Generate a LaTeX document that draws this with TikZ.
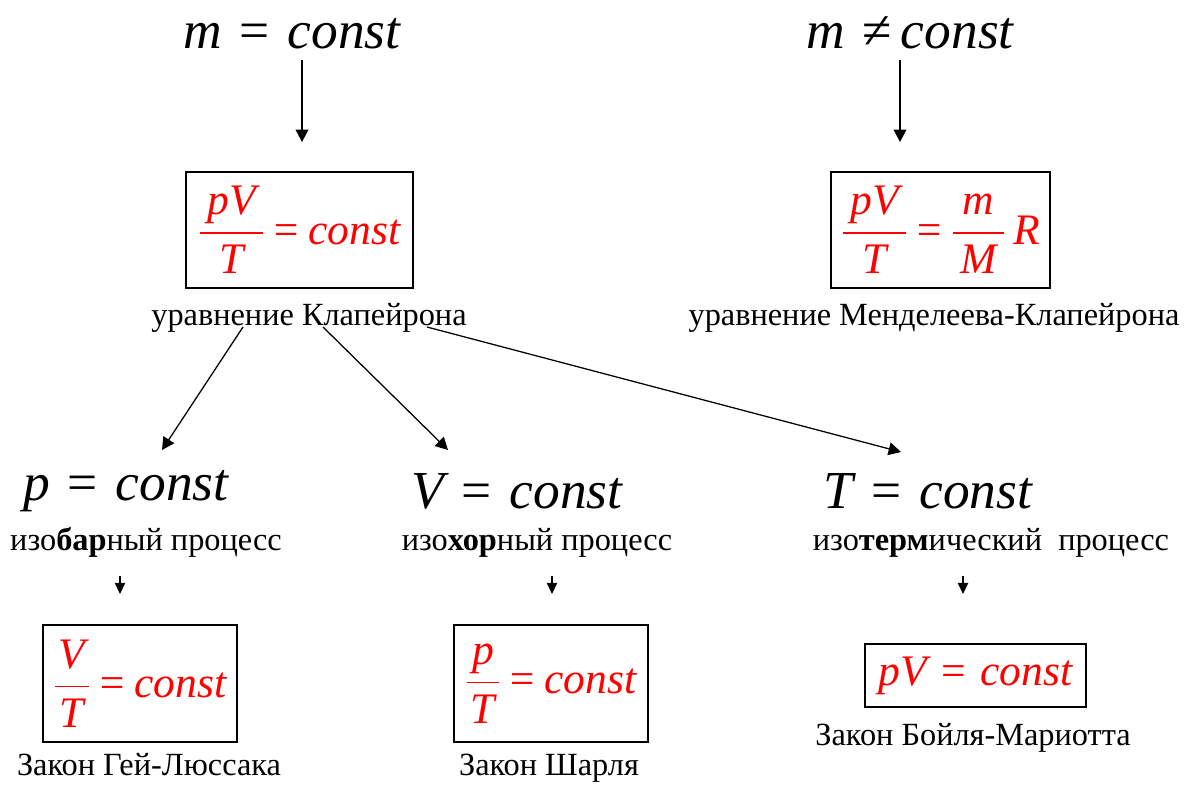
\RequirePackage{fix-cm}
\documentclass[tikz,border=0pt]{standalone}
\usepackage{amsmath}
\usepackage{fontspec}
\setmainfont{Liberation Serif}
\usepackage{tikz}
\usetikzlibrary{arrows.meta,positioning}
\newcommand\bigmath{\fontsize{38}{44}\selectfont\itshape}
\newcommand\redmath{\fontsize{31}{36}\selectfont\color{red}\itshape}
\newcommand\frc[3][\,]{\ensuremath{\dfrac{#1\textit{#2}#1}{#1\textit{#3}#1}}}
\tikzset{
  lawbox/.style = {draw, line width=1.1pt, inner sep=0pt, text=red},
  lbl/.style    = {font=\fontsize{23}{27}\selectfont, anchor=base, inner sep=0pt},
  cond/.style   = {font=\bigmath, anchor=base, inner sep=0pt},
  vec/.style    = {-{Triangle[length=3.1mm,width=3.2mm]}, line width=0.9pt},
  svec/.style   = {-{Triangle[length=2.8mm,width=2.6mm]}, line width=0.9pt},
}
\begin{document}
\begin{tikzpicture}[x=0.25mm,y=-0.25mm]
  \useasboundingbox (0,0) rectangle (1184,785);
  % top conditions
  \node[cond] (mconst) at (292,48) {m\,\,\upshape=\,\,\itshape const};
  \node[cond] (mneq)   at (910,48) {m\,\,\upshape≠\,\itshape const};
  % gas equations
  \node[lawbox, minimum width=227*0.25mm, minimum height=116*0.25mm]
      (clap) at (299.5,230) {\redmath\frc{pV}{T}\,=\,const};
  \node[lbl] (clapLbl) at (309,325) {уравнение Клапейрона};
  \node[lawbox, minimum width=219*0.25mm, minimum height=116*0.25mm]
      (mend) at (940.5,230) {\redmath\frc{pV}{T}\,=\,\frc{m}{M}\,R};
  \node[lbl] (mendLbl) at (934,325) {уравнение Менделеева-Клапейрона};
  % processes
  \node[cond] (pconst) at (126,500) {p\,\,\upshape=\,\,\itshape const};
  \node[cond] (vconst) at (517,508) {V\,\,\upshape=\,\,\itshape const};
  \node[cond] (tconst) at (928,508) {T\,\,\upshape=\,\,\itshape const};
  \node[lbl] (pLbl) at (146,550) {изо\textbf{бар}ный процесс};
  \node[lbl] (vLbl) at (537,550) {изо\textbf{хор}ный процесс};
  \node[lbl] (tLbl) at (991,550) {изо\textbf{терм}ический\ \ процесс};
  % laws
  \node[lawbox, minimum width=194*0.25mm, minimum height=117*0.25mm]
      (gay) at (140,683.5) {\redmath\frc[\mkern1.5mu]{V}{T}\,=\,const};
  \node[lawbox, minimum width=194*0.25mm, minimum height=117*0.25mm]
      (charles) at (551,683.5) {\redmath\frc[\mkern1.5mu]{p}{T}\,=\,const};
  \node[lawbox, minimum width=221*0.25mm, minimum height=63*0.25mm]
      (boyle) at (975.5,675.5) {\redmath pV\,\,\upshape=\,\,\itshape const};
  \node[lbl] (gayLbl)     at (149,775) {Закон Гей-Люссака};
  \node[lbl] (charlesLbl) at (549,775) {Закон Шарля};
  \node[lbl] (boyleLbl)   at (973,745) {Закон Бойля-Мариотта};
  % connector ends
  \coordinate (a1) at (302,60);  \coordinate (b1) at (302,142);
  \coordinate (a2) at (900,60);  \coordinate (b2) at (900,142);
  \coordinate (c1) at (243,327); \coordinate (d1) at (162,450);
  \coordinate (c2) at (323,327); \coordinate (d2) at (448,450);
  \coordinate (c3) at (427,327); \coordinate (d3) at (901,452);
  \coordinate (e1) at (120,576); \coordinate (f1) at (120,594);
  \coordinate (e2) at (552,576); \coordinate (f2) at (552,594);
  \coordinate (e3) at (963,576); \coordinate (f3) at (963,594);
  \draw[vec] (a1) -- (b1);
  \draw[vec] (a2) -- (b2);
  \foreach \i in {1,2,3} {
    \draw[vec] (c\i) -- (d\i);
    \draw[svec] (e\i) -- (f\i);
  }
\end{tikzpicture}
\end{document}
